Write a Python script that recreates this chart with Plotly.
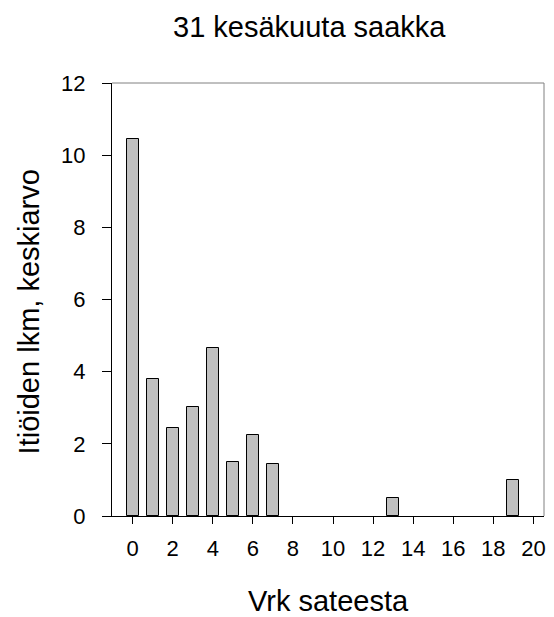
import plotly.graph_objects as go

days = [0, 1, 2, 3, 4, 5, 6, 7, 13, 19]
means = [10.45, 3.80, 2.43, 3.03, 4.65, 1.50, 2.25, 1.43, 0.50, 1.00]
x_ticks = list(range(0, 21, 2))
y_ticks = list(range(0, 13, 2))

FONT = "Liberation Sans, Arial, sans-serif"
L, R, T, B = 112, 8, 83, 101
W, H = 554, 617
PW, PH = W - L - R, H - T - B


def px(x):
    return (x - L) / PW


def py(y):
    return (H - B - y) / PH


fig = go.Figure()
fig.add_trace(go.Bar(
    x=days, y=means, width=0.61,
    marker=dict(color="#c0c0c0", line=dict(color="black", width=1)),
))

fig.update_layout(
    width=W, height=H,
    margin=dict(l=L, r=R, t=T, b=B),
    paper_bgcolor="white", plot_bgcolor="white",
    font=dict(family=FONT, size=22, color="black"),
    showlegend=False,
    bargap=0,
)
fig.update_xaxes(
    range=[-1.03, 20.53], tickvals=x_ticks, ticks="outside", ticklen=7,
    tickcolor="black", showline=True, linecolor="black", linewidth=1,
    showgrid=False, zeroline=False, ticklabelstandoff=6,
    tickfont=dict(family=FONT, size=22, color="black"),
)
fig.update_yaxes(
    range=[0, 12], tickvals=y_ticks, ticks="outside", ticklen=9,
    tickcolor="black", showline=True, linecolor="black", linewidth=1,
    showgrid=False, zeroline=False, ticklabelstandoff=12,
    tickfont=dict(family=FONT, size=22, color="black"),
)
# grey frame on top and right
fig.add_shape(type="line", xref="paper", yref="paper", x0=0, x1=1, y0=1, y1=1,
              line=dict(color="#808080", width=1))
fig.add_shape(type="line", xref="paper", yref="paper", x0=1, x1=1, y0=0, y1=1,
              line=dict(color="#808080", width=1))
fig.add_annotation(text="31 kesäkuuta saakka", xref="paper", yref="paper",
                   x=px(310), y=py(27), yanchor="middle", xanchor="center",
                   showarrow=False, font=dict(size=29))
fig.add_annotation(text="Vrk sateesta", xref="paper", yref="paper",
                   x=px(329), y=py(601), yanchor="middle", xanchor="center",
                   showarrow=False, font=dict(size=29))
fig.add_annotation(text="Itiöiden lkm, keskiarvo", xref="paper", yref="paper",
                   x=px(29), y=py(312), yanchor="middle", xanchor="center",
                   textangle=-90, showarrow=False, font=dict(size=29))
fig.write_html("out.html")
